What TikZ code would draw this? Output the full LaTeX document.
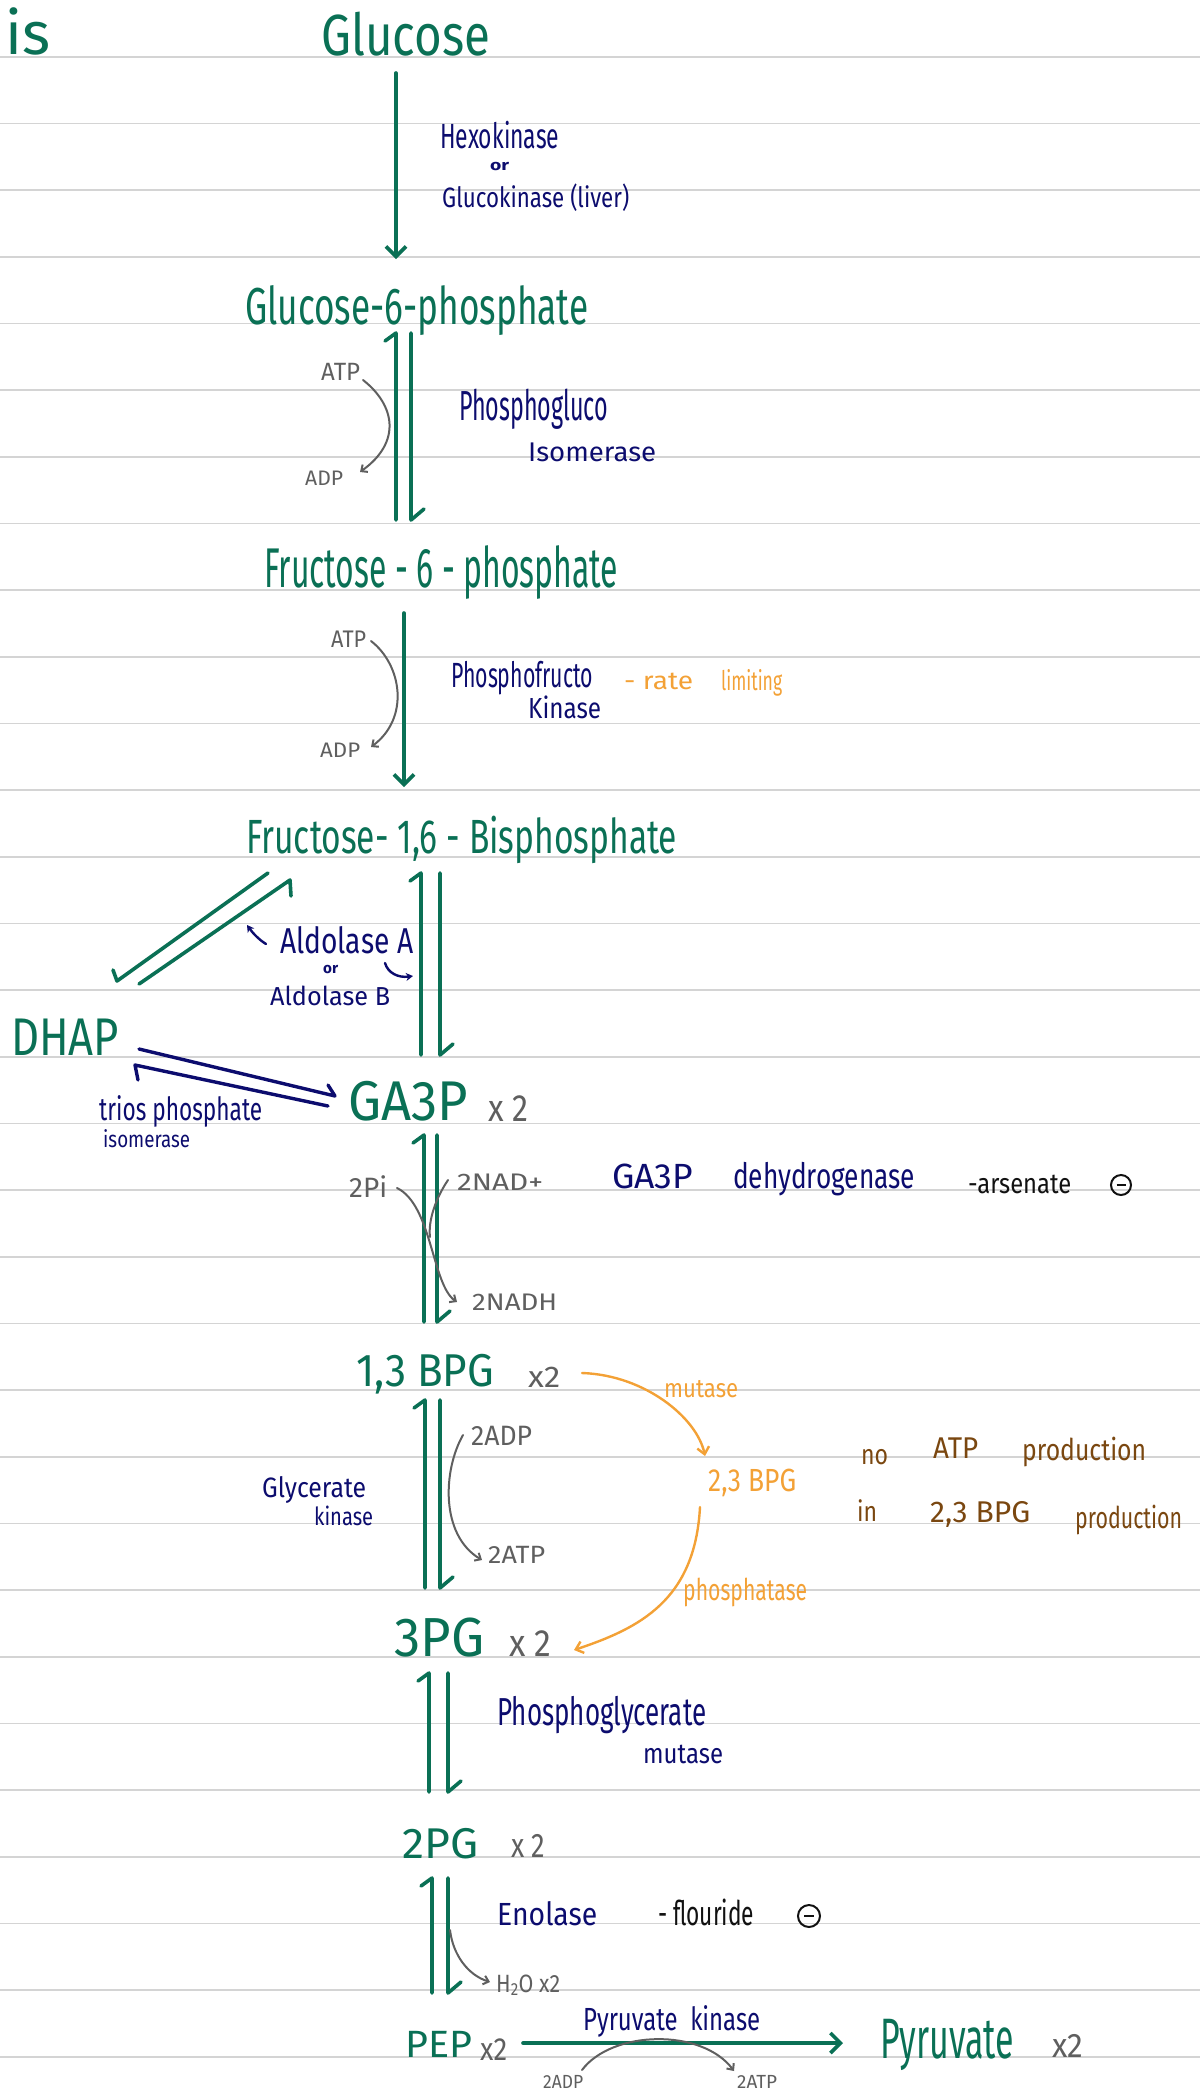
\documentclass[tikz,border=0pt]{standalone}
\usepackage{fontspec}
\setmainfont{Fira Sans}
\usepackage{graphicx}
\usetikzlibrary{arrows.meta}

\definecolor{hgreen}{HTML}{0A7055}
\definecolor{hnavy}{HTML}{0C0C6E}
\definecolor{hgray}{HTML}{5F5F5F}
\definecolor{horange}{HTML}{F3A136}
\definecolor{hbrown}{HTML}{7A4710}
\definecolor{hblack}{HTML}{111111}
\definecolor{rulegray}{HTML}{D4D4D4}

% text of a given width (pt) and font size (pt)
\newcommand\hw[3]{\resizebox{#1pt}{\height}{\fontsize{#2pt}{#2pt}\selectfont #3}}

% reversible step: up harpoon on the left, down harpoon on the right
\newcommand\eqstep[5]{%
  \coordinate (#1-lt) at (#2,#4);
  \coordinate (#1-lb) at (#2,#5);
  \coordinate (#1-rt) at (#3,#4);
  \coordinate (#1-rb) at (#3,#5);
  \draw[gline] ([shift={(-11,8)}]#1-lt) -- (#1-lt) -- (#1-lb);
  \draw[gline] (#1-rt) -- (#1-rb) -- ([shift={(13,-11)}]#1-rb);
}

\tikzset{
  rule/.style={draw=rulegray, line width=1.6pt},
  gline/.style={draw=hgreen, line width=3.6pt, line cap=round, line join=round},
  nline/.style={draw=hnavy, line width=3.4pt, line cap=round, line join=round},
  garrow/.style={gline, -{Straight Barb[length=10pt,width=20pt]}},
  cof/.style={draw=hgray, line width=2pt, line cap=round, -{Straight Barb[length=5pt,width=9pt]}},
  cofplain/.style={draw=hgray, line width=2pt, line cap=round},
  oarrow/.style={draw=horange, line width=2.4pt, line cap=round, -{Straight Barb[length=7pt,width=12pt]}},
  narrow/.style={draw=hnavy, line width=2.4pt, line cap=round, -{Stealth[length=7pt,width=8pt]}},
  lbl/.style={inner sep=0pt, anchor=base west},
  met/.style={lbl, text=hgreen},
  enz/.style={lbl, text=hnavy},
  co/.style={lbl, text=hgray},
  ora/.style={lbl, text=horange},
  brn/.style={lbl, text=hbrown},
  blk/.style={lbl, text=hblack},
  neg/.style={circle, draw=hblack, line width=2pt, inner sep=0pt},
}

\begin{document}
\begin{tikzpicture}[x=1pt,y=-1pt]
\useasboundingbox (0,0) rectangle (1200,2089);

% ruled paper
\foreach \k in {0,...,30}
  \draw[rule] (0,{56.7+66.67*\k}) -- (1200,{56.7+66.67*\k});

% heading fragment
\node[inner sep=0pt, anchor=base east, text=hgreen] (title) at (51,54)
  {\fontsize{60pt}{60pt}\selectfont is};

% metabolites
\node[met] (glc)   at (321,55)   {\hw{169}{58}{Glucose}};
\node[met] (g6p)   at (245,324)  {\hw{343}{52}{Glucose-6-phosphate}};
\node[met] (f6p)   at (264,587)  {\hw{354}{56}{Fructose - 6 - phosphate}};
\node[met] (f16bp) at (246,853)  {\hw{431}{48}{Fructose- 1,6 - Bisphosphate}};
\node[met] (dhap)  at (11,1055)  {\hw{108}{53}{DHAP}};
\node[met] (ga3p)  at (348,1120) {\hw{120}{56}{GA3P}};
\node[met] (bpg)   at (356,1386) {\hw{138}{46}{1,3 BPG}};
\node[met] (pg3)   at (394,1656) {\hw{90}{55}{3PG}};
\node[met] (pg2)   at (402,1858) {\hw{76}{43}{2PG}};
\node[met] (pep)   at (405,2057) {\hw{67}{38}{PEP}};
\node[met] (pyr)   at (880,2058) {\hw{134}{57}{Pyruvate}};

% multipliers
\node[co] (m1) at (488,1121)  {\hw{40}{38}{x 2}};
\node[co] (m2) at (528,1387)  {\hw{32}{30}{x2}};
\node[co] (m3) at (509,1656)  {\hw{42}{38}{x 2}};
\node[co] (m4) at (511,1857)  {\hw{34}{34}{x 2}};
\node[co] (m5) at (480,2060)  {\hw{27}{32}{x2}};
\node[co] (m6) at (1052,2057) {\hw{31}{34}{x2}};

% enzymes
\node[enz] (hexo)  at (440,148)  {\hw{119}{35}{Hexokinase}};
\node[enz] (or1)   at (490,170)  {\hw{19}{15}{\bfseries or}};
\node[enz] (gck)   at (442,207)  {\hw{187}{28}{Glucokinase (liver)}};
\node[enz] (pgi1)  at (459,420)  {\hw{149}{42}{Phosphogluco}};
\node[enz] (pgi2)  at (528,461)  {\hw{128}{27}{Isomerase}};
\node[enz] (pfk1)  at (451,687)  {\hw{142}{35}{Phosphofructo}};
\node[enz] (pfk2)  at (528,718)  {\hw{73}{29}{Kinase}};
\node[enz] (aldA)  at (280,953)  {\hw{133}{36}{Aldolase A}};
\node[enz] (or2)   at (323,973)  {\hw{15}{15}{\bfseries or}};
\node[enz] (aldB)  at (270,1005) {\hw{120}{26}{Aldolase B}};
\node[enz] (tpi1)  at (99,1120)  {\hw{163}{32}{trios phosphate}};
\node[enz] (tpi2)  at (103,1147) {\hw{87}{23}{isomerase}};
\node[enz] (gd1)   at (612,1188) {\hw{81}{35}{GA3P}};
\node[enz] (gd2)   at (733,1188) {\hw{182}{35}{dehydrogenase}};
\node[enz] (pgk1)  at (262,1497) {\hw{104}{28}{Glycerate}};
\node[enz] (pgk2)  at (314,1525) {\hw{59}{25}{kinase}};
\node[enz] (pgm1)  at (497,1725) {\hw{209}{39}{Phosphoglycerate}};
\node[enz] (pgm2)  at (643,1763) {\hw{80}{28}{mutase}};
\node[enz] (eno)   at (497,1925) {\hw{100}{32}{Enolase}};
\node[enz] (pk)    at (583,2030) {\hw{177}{32}{Pyruvate \ kinase}};

% inhibitors and notes
\node[blk] (ars) at (968,1193) {\hw{103}{28}{-arsenate}};
\node[neg, minimum size=20pt] (neg1) at (1121,1185) {};
\draw[hblack, line width=2pt] ([xshift=-4.5pt]neg1.center) -- ([xshift=4.5pt]neg1.center);
\node[blk] (flu) at (658,1925) {\hw{96}{34}{- flouride}};
\node[neg, minimum size=22pt] (neg2) at (809,1916) {};
\draw[hblack, line width=2pt] ([xshift=-5pt]neg2.center) -- ([xshift=5pt]neg2.center);

\node[ora] (rate) at (624,689)  {\hw{69}{25}{- rate}};
\node[ora] (lim)  at (721,690)  {\hw{61}{27}{limiting}};
\node[ora] (mut)  at (664,1397) {\hw{74}{26}{mutase}};
\node[ora] (bpg23) at (708,1491) {\hw{88}{32}{2,3 BPG}};
\node[ora] (phos) at (683,1600) {\hw{124}{30}{phosphatase}};

\node[brn] (no)    at (861,1464)  {\hw{27}{28}{no}};
\node[brn] (natp)  at (933,1458)  {\hw{45}{30}{ATP}};
\node[brn] (prod1) at (1022,1460) {\hw{124}{30}{production}};
\node[brn] (in)    at (857,1521)  {\hw{20}{28}{in}};
\node[brn] (nbpg)  at (930,1522)  {\hw{100}{30}{2,3 BPG}};
\node[brn] (prod2) at (1075,1528) {\hw{107}{30}{production}};

% cofactors
\node[co] (atp1) at (321,380)  {\hw{39}{25}{ATP}};
\node[co] (adp1) at (305,485)  {\hw{38}{21}{ADP}};
\node[co] (atp2) at (331,647)  {\hw{35}{24}{ATP}};
\node[co] (adp2) at (320,757)  {\hw{40}{21}{ADP}};
\node[co] (pi)   at (349,1197) {\hw{38}{28}{2Pi}};
\node[co] (nad)  at (457,1190) {\hw{86}{24}{2NAD+}};
\node[co] (nadh) at (472,1310) {\hw{85}{24}{2NADH}};
\node[co] (adp3) at (471,1445) {\hw{61}{28}{2ADP}};
\node[co] (atp3) at (488,1563) {\hw{57}{25}{2ATP}};
\node[co] (h2o)  at (496,1992) {\hw{64}{25}{H\textsubscript{2}O x2}};
\node[co] (adp4) at (543,2088) {\hw{40}{19}{2ADP}};
\node[co] (atp4) at (737,2088) {\hw{40}{19}{2ATP}};

% irreversible steps
\coordinate (hk-s) at (396,73);   \coordinate (hk-e) at (396,259);
\draw[garrow] (hk-s) -- (hk-e);
\coordinate (pf-s) at (404,613);  \coordinate (pf-e) at (404,787);
\draw[garrow] (pf-s) -- (pf-e);
\coordinate (pk-s) at (523,2043); \coordinate (pk-e) at (843,2043);
\draw[garrow] (pk-s) -- (pk-e);

% reversible steps
\eqstep{s1}{396}{411}{333}{520}
\eqstep{s2}{421}{440}{873}{1055}
\eqstep{s3}{424}{437}{1135}{1322}
\eqstep{s4}{425}{440}{1400}{1588}
\eqstep{s5}{429}{448}{1673}{1792}
\eqstep{s6}{432}{448}{1878}{1993}

% aldolase split towards DHAP
\coordinate (ad1) at (268,873); \coordinate (ad2) at (117,981);
\coordinate (ad3) at (139,984); \coordinate (ad4) at (290,880);
\draw[gline] (ad1) -- (ad2) -- ([shift={(-4,-11)}]ad2);
\draw[gline] (ad3) -- (ad4) -- ([shift={(1,16)}]ad4);

% triose phosphate isomerase
\coordinate (tp1) at (139,1049); \coordinate (tp2) at (335,1096);
\coordinate (tp3) at (328,1106); \coordinate (tp4) at (135,1065);
\draw[nline] (tp1) -- (tp2) -- ([shift={(-7,-11)}]tp2);
\draw[nline] (tp3) -- (tp4) -- ([shift={(3,15)}]tp4);

% aldolase pointers
\coordinate (al1) at (266,944); \coordinate (al2) at (247,925);
\draw[narrow] (al1) .. controls (258,939) and (252,932) .. (al2);
\coordinate (al3) at (385,963); \coordinate (al4) at (413,976);
\draw[narrow] (al3) .. controls (388,973) and (398,978) .. (al4);

% cofactor exchanges
\coordinate (c1a) at (363,380); \coordinate (c1b) at (360,472);
\draw[cof] (c1a) .. controls (395,405) and (402,442) .. (c1b);
\coordinate (c2a) at (371,641); \coordinate (c2b) at (371,747);
\draw[cof] (c2a) .. controls (402,665) and (410,718) .. (c2b);
\coordinate (c3a) at (397,1188); \coordinate (c3b) at (457,1302);
\draw[cof] (c3a) .. controls (432,1205) and (432,1285) .. (c3b);
\coordinate (c3c) at (448,1180); \coordinate (c3d) at (430,1237);
\draw[cofplain] (c3c) .. controls (436,1198) and (428,1220) .. (c3d);
\coordinate (c4a) at (463,1435); \coordinate (c4b) at (482,1560);
\draw[cof] (c4a) .. controls (443,1470) and (440,1535) .. (c4b);
\coordinate (c5a) at (450,1930); \coordinate (c5b) at (490,1982);
\draw[cof] (c5a) .. controls (453,1955) and (468,1975) .. (c5b);
\coordinate (c6a) at (582,2070); \coordinate (c6b) at (734,2071);
\draw[cof] (c6a) .. controls (612,2030) and (702,2028) .. (c6b);

% 2,3-BPG shunt
\coordinate (sh1) at (582,1373); \coordinate (sh2) at (705,1456);
\draw[oarrow] (sh1) .. controls (645,1375) and (697,1418) .. (sh2);
\coordinate (sh3) at (700,1507); \coordinate (sh4) at (574,1650);
\draw[oarrow] (sh3) .. controls (695,1600) and (640,1628) .. (sh4);

\end{tikzpicture}
\end{document}
